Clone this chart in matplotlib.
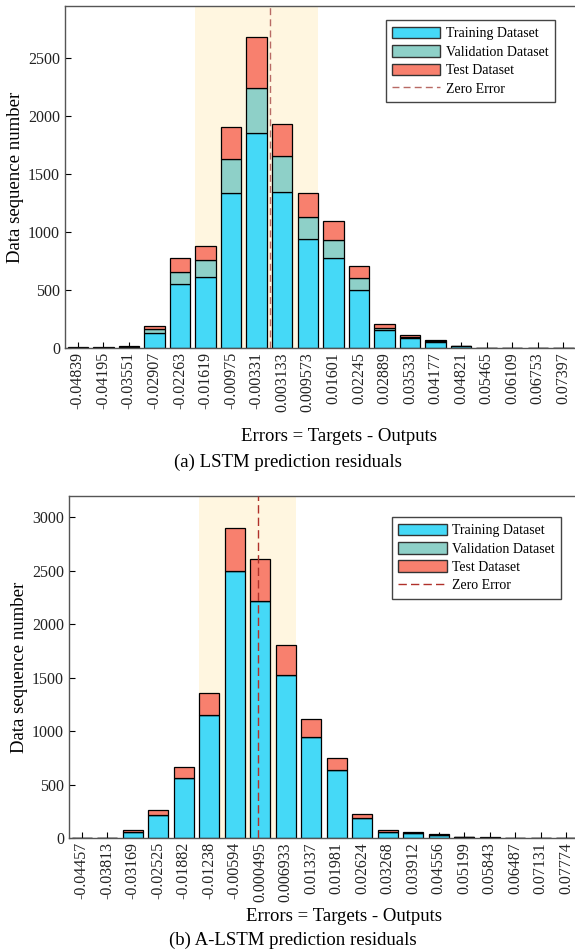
import matplotlib.pyplot as plt
import matplotlib.patches as mpatches
from matplotlib.lines import Line2D

plt.rcParams['font.family'] = ['Liberation Serif', 'DejaVu Serif']

# (a) LSTM residual histogram
lstm_bins = ['-0.04839', '-0.04195', '-0.03551', '-0.02907', '-0.02263', '-0.01619',
             '-0.00975', '-0.00331', '0.003133', '0.009573', '0.01601', '0.02245',
             '0.02889', '0.03533', '0.04177', '0.04821', '0.05465', '0.06109',
             '0.06753', '0.07397']
lstm_train = [3, 3, 11, 126, 549, 609, 1334, 1859, 1348, 937, 773, 500, 152, 84, 50, 15, 2, 2, 1, 1]
lstm_val = [1, 1, 2, 35, 109, 147, 298, 386, 307, 192, 161, 101, 22, 12, 8, 3, 1, 0, 0, 0]
lstm_test = [1, 1, 2, 31, 115, 123, 276, 434, 279, 205, 164, 103, 30, 16, 8, 4, 1, 0, 0, 0]

# (b) A-LSTM residual histogram
alstm_bins = ['-0.04457', '-0.03813', '-0.03169', '-0.02525', '-0.01882', '-0.01238',
              '-0.00594', '0.000495', '0.006933', '0.01337', '0.01981', '0.02624',
              '0.03268', '0.03912', '0.04556', '0.05199', '0.05843', '0.06487',
              '0.07131', '0.07774']
alstm_train = [3, 3, 60, 218, 566, 1151, 2496, 2216, 1522, 946, 641, 184, 56, 45, 28, 6, 4, 2, 1, 1]
alstm_val = [0] * 20
alstm_test = [0, 0, 12, 40, 94, 206, 407, 398, 283, 168, 109, 40, 17, 12, 12, 2, 1, 0, 0, 0]

c_train = '#45D9F7'
c_val = '#8ED0C8'
c_test = '#F8806E'
c_shade = '#FFF6E0'


def zero_pos(labels):
    v = [float(s) for s in labels]
    step = v[1] - v[0]
    return (0 - v[0]) / step


def draw_panel(ax, labels, train, val, test, shade, ylim, yticks, zline, leg_anchor):
    x = list(range(len(labels)))
    ax.axvspan(shade[0], shade[1], color=c_shade, zorder=0, lw=0)
    bottom2 = [a + b for a, b in zip(train, val)]
    ax.bar(x, train, width=0.8, color=c_train, edgecolor='black', lw=0.9, zorder=2)
    ax.bar(x, val, width=0.8, bottom=train, color=c_val, edgecolor='black', lw=0.9, zorder=2)
    ax.bar(x, test, width=0.8, bottom=bottom2, color=c_test, edgecolor='black', lw=0.9, zorder=2)
    ax.axvline(zero_pos(labels), color=zline[0], ls=(0, zline[1]), lw=1.0, zorder=3)
    ax.set_xlim(-0.5, 19.5)
    ax.set_ylim(0, ylim)
    ax.set_yticks(yticks)
    ax.set_xticks(x)
    ax.set_xticklabels(labels, rotation=90, fontsize=11.5)
    ax.tick_params(axis='y', labelsize=11.5, direction='in', length=4, labelcolor='#222222')
    ax.tick_params(axis='x', direction='in', length=4, pad=3, labelcolor='#222222')
    for s in ax.spines.values():
        s.set_color('#555555')
        s.set_linewidth(1.0)
    ax.set_ylabel('Data sequence number', fontsize=13.5, labelpad=3)
    handles = [mpatches.Patch(facecolor=c_train, edgecolor='#333333', label='Training Dataset'),
               mpatches.Patch(facecolor=c_val, edgecolor='#333333', label='Validation Dataset'),
               mpatches.Patch(facecolor=c_test, edgecolor='#333333', label='Test Dataset'),
               Line2D([0], [0], color=zline[0], ls=(0, zline[1]), lw=1.0, label='Zero Error')]
    leg = ax.legend(handles=handles, loc='upper right', bbox_to_anchor=leg_anchor, fontsize=10,
                    fancybox=False, framealpha=1, edgecolor='#444444', handlelength=3.5,
                    handleheight=0.9, labelspacing=0.35, borderpad=0.45, handletextpad=0.4,
                    borderaxespad=0.5)
    leg.get_frame().set_linewidth(1.0)


fig = plt.figure(figsize=(5.75, 9.51), dpi=100)
ax1 = fig.add_axes([0.113, 0.634, 0.889, 0.3597])
ax2 = fig.add_axes([0.12, 0.1188, 0.887, 0.3596])

draw_panel(ax1, lstm_bins, lstm_train, lstm_val, lstm_test, (4.6, 9.4), 2950,
           [0, 500, 1000, 1500, 2000, 2500], ('#B86A65', (5, 3)), (0.972, 0.978))
draw_panel(ax2, alstm_bins, alstm_train, alstm_val, alstm_test, (4.6, 8.4), 3200,
           [0, 500, 1000, 1500, 2000, 2500, 3000], ('#B0302A', (6, 3)), (0.979, 0.958))

fig.text(0.59, 0.5405, 'Errors = Targets - Outputs', fontsize=13.5, ha='center', va='center')
fig.text(0.5, 0.514, '(a) LSTM prediction residuals', fontsize=13.5, ha='center', va='center')
fig.text(0.598, 0.0368, 'Errors = Targets - Outputs', fontsize=13.5, ha='center', va='center')
fig.text(0.509, 0.0116, '(b) A-LSTM prediction residuals', fontsize=13.5, ha='center', va='center')

fig.savefig('out.png', dpi=100)
